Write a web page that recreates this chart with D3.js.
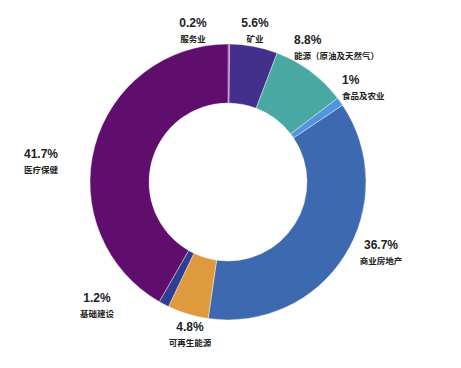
<!DOCTYPE html>
<html>
<head>
<meta charset="utf-8">
<script src="https://cdn.jsdelivr.net/npm/d3@7"></script>
<style>
  body { margin: 0; background: #fff; }
  text { font-family: "Liberation Sans", Arial, "Noto Sans CJK SC", sans-serif; }
</style>
</head>
<body>
<svg></svg>
<script>
const categories = ['服务业', '矿业', '能源（原油及天然气）', '食品及农业', '商业房地产', '可再生能源', '基础建设', '医疗保健'];
const values = [0.2, 5.6, 8.8, 1, 36.7, 4.8, 1.2, 41.7];
const valueLabels = ['0.2%', '5.6%', '8.8%', '1%', '36.7%', '4.8%', '1.2%', '41.7%'];
const colors = ['#b3288a', '#43308c', '#4aa8a3', '#4f96dc', '#3d69b0', '#e09a3e', '#2f3e8e', '#600e6e'];

// where each label block sits: [x, y of percent line, anchor]
const labelLayout = [
    [193, 27, 'middle'],
    [255, 27, 'middle'],
    [294, 44, 'start'],
    [342, 84, 'start'],
    [381, 249, 'middle'],
    [190, 331, 'middle'],
    [97, 302, 'middle'],
    [24, 158, 'start']
];

let width = 461;
let height = 368;
let cx = 228;
let cy = 182;
let outerR = 138;
let innerR = 79;

let svg = d3.select('svg')
    .attr('width', width)
    .attr('height', height);

const drawDonut = () => {
    let pie = d3.pie()
        .sort(null)
        .value(d => d);

    let arc = d3.arc()
        .innerRadius(innerR)
        .outerRadius(outerR);

    let g = svg.append('g')
        .attr('transform', 'translate(' + cx + ',' + cy + ')');

    g.selectAll('path')
        .data(pie(values))
        .enter()
        .append('path')
        .attr('d', arc)
        .attr('fill', (d, i) => colors[i])
        .attr('stroke', '#fff')
        .attr('stroke-width', 0.4);
}

const drawLabels = () => {
    let labels = svg.selectAll('.label')
        .data(categories)
        .enter()
        .append('g')
        .attr('class', 'label')
        .attr('transform', (d, i) => 'translate(' + labelLayout[i][0] + ',' + labelLayout[i][1] + ')');

    labels.append('text')
        .attr('text-anchor', (d, i) => labelLayout[i][2])
        .attr('font-size', 12)
        .attr('font-weight', 'bold')
        .attr('fill', '#222')
        .text((d, i) => valueLabels[i]);

    labels.append('text')
        .attr('y', 15)
        .attr('text-anchor', (d, i) => labelLayout[i][2])
        .attr('font-size', 8.5)
        .attr('font-weight', 'bold')
        .attr('fill', '#222')
        .text(d => d);
}

drawDonut();
drawLabels();
</script>
</body>
</html>
